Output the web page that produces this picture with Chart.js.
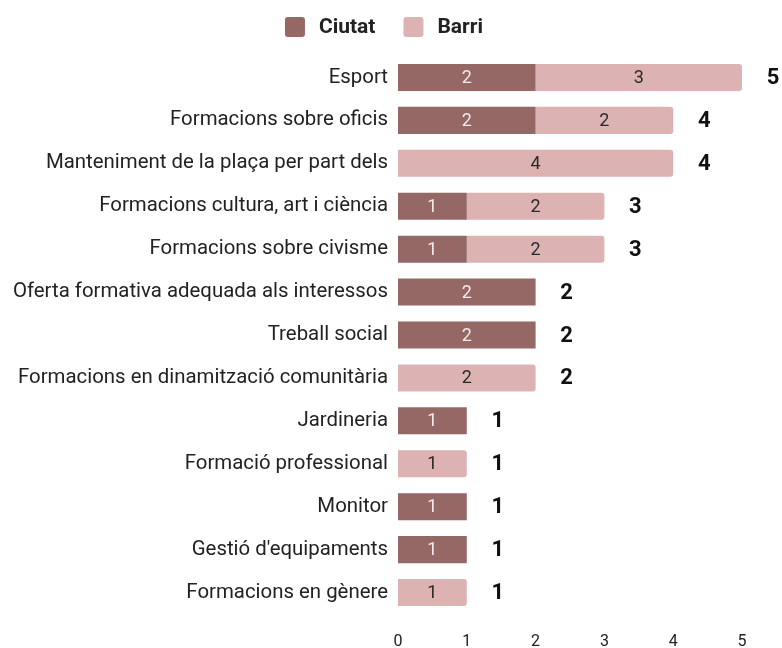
<!DOCTYPE html>
<html>
<head>
<meta charset="utf-8">
<script src="https://cdn.jsdelivr.net/npm/chart.js@4"></script>
<style>
  html, body { margin: 0; padding: 0; background: #ffffff; }
  #wrap { width: 782px; height: 648px; position: relative; }
</style>
</head>
<body>
<div id="wrap"><canvas id="c" width="782" height="648"></canvas></div>
<script>
const categories = [
  "Esport",
  "Formacions sobre oficis",
  "Manteniment de la plaça per part dels",
  "Formacions cultura, art i ciència",
  "Formacions sobre civisme",
  "Oferta formativa adequada als interessos",
  "Treball social",
  "Formacions en dinamització comunitària",
  "Jardineria",
  "Formació professional",
  "Monitor",
  "Gestió d'equipaments",
  "Formacions en gènere"
];
const ciutat = [2, 2, 0, 1, 1, 2, 2, 0, 1, 0, 1, 1, 0];
const barri  = [3, 2, 4, 2, 2, 0, 0, 2, 0, 1, 0, 0, 1];
const xTicks = [0, 1, 2, 3, 4, 5];
const seriesNames = ['Ciutat', 'Barri'];
const seriesColors = ['#956765', '#dcb3b2'];

const FONT = "Roboto, 'Noto Sans', sans-serif";

function roundRect(ctx, x, y, w, h, r) {
  ctx.beginPath();
  ctx.moveTo(x + r, y);
  ctx.lineTo(x + w - r, y);
  ctx.quadraticCurveTo(x + w, y, x + w, y + r);
  ctx.lineTo(x + w, y + h - r);
  ctx.quadraticCurveTo(x + w, y + h, x + w - r, y + h);
  ctx.lineTo(x + r, y + h);
  ctx.quadraticCurveTo(x, y + h, x, y + h - r);
  ctx.lineTo(x, y + r);
  ctx.quadraticCurveTo(x, y, x + r, y);
  ctx.closePath();
}

const legendPlugin = {
  id: 'customLegend',
  afterDraw(chart) {
    const ctx = chart.ctx;
    ctx.save();
    ctx.font = "700 21px " + FONT;
    ctx.textBaseline = 'middle';
    ctx.textAlign = 'left';
    const box = 20, gapText = 14, gapItem = 28, cy = 27;
    const items = chart.data.datasets.map(d => ({ label: d.label, color: d.backgroundColor }));
    let total = 0;
    items.forEach((it, i) => {
      it.w = ctx.measureText(it.label).width;
      total += box + gapText + it.w + (i < items.length - 1 ? gapItem : 0);
    });
    let x = 384 - total / 2;
    items.forEach(it => {
      ctx.fillStyle = it.color;
      roundRect(ctx, x, cy - box / 2, box, box, 3);
      ctx.fill();
      x += box + gapText;
      ctx.fillStyle = '#222222';
      ctx.fillText(it.label, x, cy + 1);
      x += it.w + gapItem;
    });
    ctx.restore();
  }
};

const labelsPlugin = {
  id: 'barLabels',
  afterDatasetsDraw(chart) {
    const ctx = chart.ctx;
    ctx.save();
    ctx.textBaseline = 'middle';
    ctx.textAlign = 'center';
    const colors = ['#f3eaea', '#2a2a2a'];
    chart.data.datasets.forEach((ds, di) => {
      const meta = chart.getDatasetMeta(di);
      if (meta.hidden) return;
      meta.data.forEach((bar, i) => {
        const v = ds.data[i];
        if (!v) return;
        const p = bar.getProps(['x', 'y', 'base'], true);
        ctx.font = "400 18px " + FONT;
        ctx.fillStyle = colors[di];
        ctx.fillText(String(v), (p.x + p.base) / 2, p.y + 1);
      });
    });
    const xs = chart.scales.x;
    const ys = chart.scales.y;
    ctx.font = "700 22px " + FONT;
    ctx.fillStyle = '#111111';
    categories.forEach((c, i) => {
      const t = ciutat[i] + barri[i];
      ctx.fillText(String(t), xs.getPixelForValue(t) + 31, ys.getPixelForValue(i) + 1);
    });
    ctx.restore();
  }
};

new Chart(document.getElementById('c'), {
  type: 'bar',
  data: {
    labels: categories,
    datasets: [
      { label: seriesNames[0], data: ciutat, backgroundColor: seriesColors[0], borderRadius: 0,
        barPercentage: 0.63, categoryPercentage: 1 },
      { label: seriesNames[1], data: barri, backgroundColor: seriesColors[1], borderRadius: 3,
        barPercentage: 0.63, categoryPercentage: 1 }
    ]
  },
  options: {
    indexAxis: 'y',
    responsive: false,
    animation: false,
    devicePixelRatio: 1,
    layout: { padding: { left: 8, right: 40, top: 56, bottom: 0 } },
    plugins: {
      legend: { display: false },
      tooltip: { enabled: false }
    },
    scales: {
      x: {
        stacked: true, min: 0, max: 5,
        afterBuildTicks(axis) { axis.ticks = xTicks.map(v => ({ value: v })); },
        afterFit(axis) { axis.height = 34; },
        grid: { display: false, drawTicks: false },
        border: { display: false },
        ticks: { color: '#222222', font: { family: FONT, size: 16 }, padding: 18 }
      },
      y: {
        stacked: true,
        afterFit(axis) { axis.width = 390; },
        grid: { display: false, drawTicks: false },
        border: { display: false },
        ticks: { color: '#222222', font: { family: FONT, size: 20.4 }, padding: 10, autoSkip: false }
      }
    }
  },
  plugins: [labelsPlugin, legendPlugin]
});
</script>
</body>
</html>
